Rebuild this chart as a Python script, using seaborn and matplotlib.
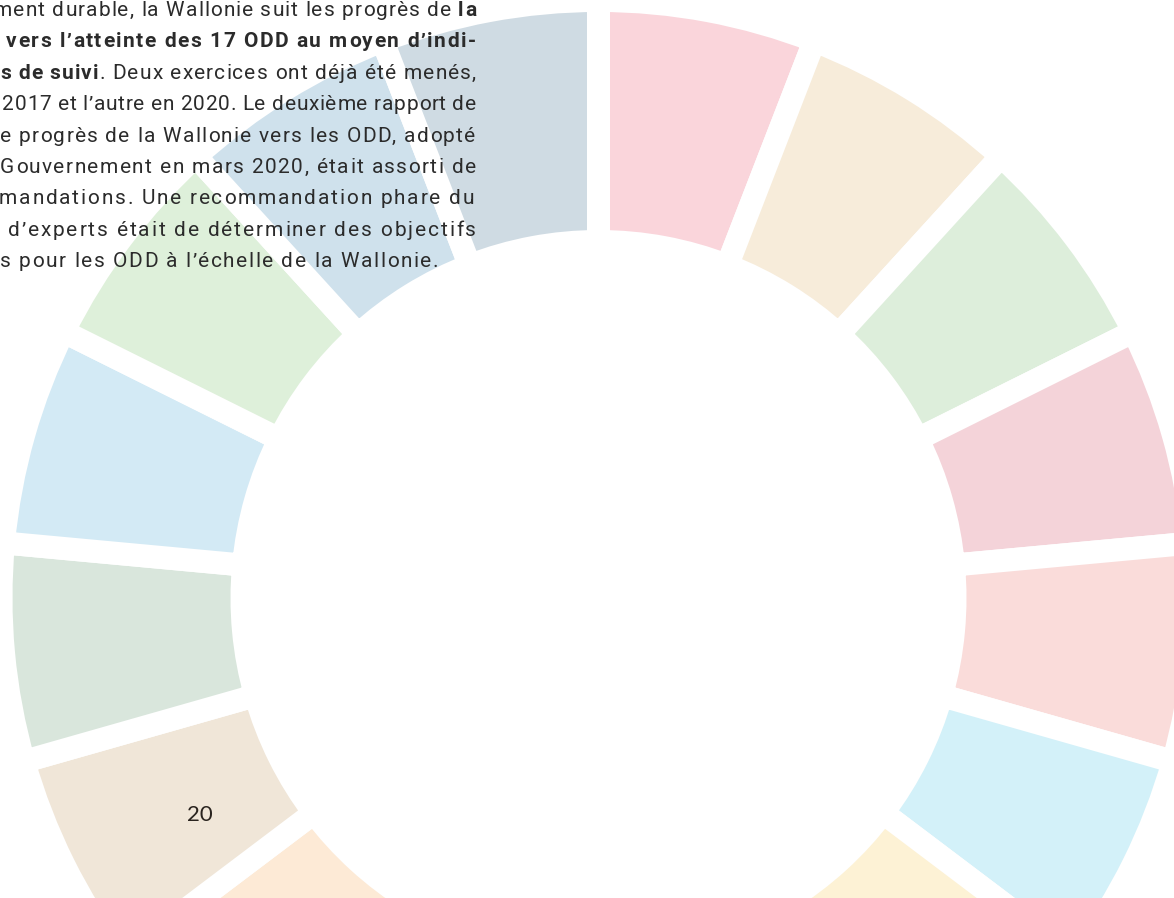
import matplotlib.pyplot as plt
import seaborn as sns
from matplotlib import font_manager
from matplotlib.ft2font import FT2Font

# page size in pixels (figure is drawn 1:1 in pixel data units)
W, H = 1174, 898

# ODD wheel: 17 goals, one equal segment each
odd_labels = [f"ODD {i}" for i in range(1, 18)]
odd_sizes = [1, 1, 1, 1, 1, 1, 1, 1, 1, 1, 1, 1, 1, 1, 1, 1, 1]
odd_colors = ["#fad5db", "#f7ecda", "#ddeedb", "#f4d3d9", "#fadcda", "#d3f1f9",
              "#fdf2d5", "#f0d3db", "#fde0d3", "#f9d2e3", "#fdead6", "#f0e6d8",
              "#d9e6dc", "#d3eaf5", "#def0da", "#cfe1ec", "#cfdbe3"]

# paragraph cut by the left page edge: (text, weight) pieces per line
text_lines = [
    [("ment durable, la Wallonie suit les progrès de ", "normal"), ("la", "bold")],
    [("vers l’atteinte des 17 ODD au moyen d’indi-", "bold")],
    [("s de suivi", "bold"), (". Deux exercices ont déjà été menés,", "normal")],
    [("2017 et l’autre en 2020. Le deuxième rapport de", "normal")],
    [("e progrès de la Wallonie vers les ODD, adopté", "normal")],
    [("Gouvernement en mars 2020, était assorti de", "normal")],
    [("mandations. Une recommandation phare du", "normal")],
    [("d’experts était de déterminer des objectifs", "normal")],
    [("s pour les ODD à l’échelle de la Wallonie.", "normal")],
]
line_left = [-6, 6, 0, 2, 0, 0, -1, 8, 0]
line_right = [476, 476, 476, 476, 475, 476, 474, 476, 438]
page_number = "20"

sns.set_theme(style="white")
plt.rcParams["font.family"] = ["Roboto", "DejaVu Sans"]

fig = plt.figure(figsize=(W / 100, H / 100), dpi=100)
ax = fig.add_axes([0, 0, 1, 1])

# wheel centre and radii in page pixels; white edges make the gaps
cx, cy = 598.5, H - 598
gap = 23
r_out = 586 + gap / 2
r_in = 368 - gap / 2
palette = sns.color_palette(odd_colors)
ax.pie(
    odd_sizes,
    colors=palette,
    startangle=90,
    counterclock=False,
    radius=r_out,
    center=(cx, cy),
    frame=True,
    wedgeprops={"width": r_out - r_in, "edgecolor": "white",
                "linewidth": gap * 0.72, "joinstyle": "miter"},
)
ax.set_xlim(0, W)
ax.set_ylim(0, H)
ax.set_aspect("equal")
ax.axis("off")

# justified paragraph: the page uses letter spacing, so every character is
# placed by its advance width plus an even tracking that fills the line
text_color = "#2b2b2b"
font_size = 15
fonts = {}
for weight in ("normal", "bold"):
    path = font_manager.findfont(font_manager.FontProperties(family="Roboto", weight=weight))
    f = FT2Font(path)
    f.set_size(font_size, 100)
    fonts[weight] = f


def advance(ch, weight):
    return fonts[weight].load_char(ord(ch)).linearHoriAdvance / 65536


for i, pieces in enumerate(text_lines):
    y = H - (16 + 31.4 * i)
    chars = [(ch, weight) for s, weight in pieces for ch in s]
    adv = [advance(ch, weight) for ch, weight in chars]
    track = (line_right[i] - line_left[i] - sum(adv)) / (len(chars) - 1)
    x = line_left[i]
    for (ch, weight), a in zip(chars, adv):
        if ch != " ":
            ax.text(x, y, ch, ha="left", va="baseline", fontsize=font_size,
                    fontweight=weight, color=text_color, zorder=5)
        x += a + track

ax.text(200, H - 815, page_number, ha="center", va="center", fontsize=16,
        color="#2a241f", family=["Lato", "DejaVu Sans"], zorder=5)

fig.savefig("out.png", dpi=100, facecolor="white")
